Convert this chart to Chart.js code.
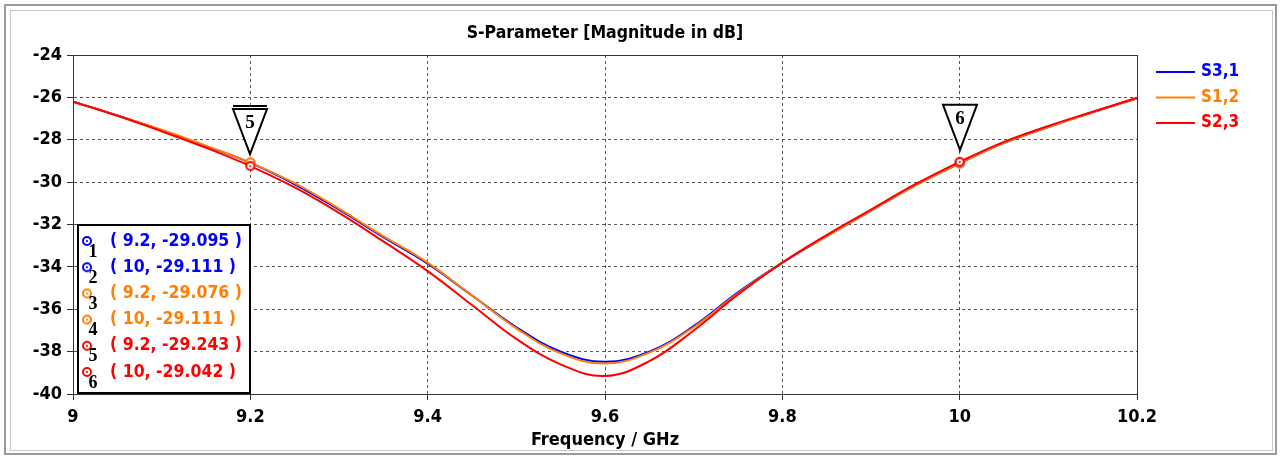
<!DOCTYPE html>
<html lang="en">
<head>
<meta charset="UTF-8">
<title>S-Parameter [Magnitude in dB]</title>
<script src="https://cdn.jsdelivr.net/npm/chart.js"></script>
<style>
  html, body { margin: 0; padding: 0; background: #fff; }
  #wrap { position: relative; width: 1284px; height: 457px; }
</style>
</head>
<body>
<div id="wrap"><canvas id="sparam"></canvas></div>
<script>
// frequency points (GHz) and magnitudes (dB)
const freqs = [9.00, 9.05, 9.10, 9.15, 9.20, 9.25, 9.30, 9.35, 9.40, 9.45, 9.50, 9.55, 9.60,
               9.65, 9.70, 9.75, 9.80, 9.85, 9.90, 9.95, 10.00, 10.05, 10.10, 10.15, 10.20];
const s31 = [-26.2, -26.85, -27.55, -28.3, -29.095, -30.1, -31.3, -32.6, -33.85, -35.35, -36.85, -38.0, -38.48,
             -38.0, -36.8, -35.2, -33.8, -32.55, -31.35, -30.15, -29.111, -28.15, -27.4, -26.7, -26.05];
const s12 = [-26.2, -26.85, -27.53, -28.28, -29.076, -30.05, -31.25, -32.55, -33.8, -35.35, -36.9, -38.08, -38.56,
             -38.05, -36.85, -35.25, -33.8, -32.55, -31.35, -30.15, -29.111, -28.15, -27.4, -26.7, -26.05];
const s23 = [-26.2, -26.87, -27.6, -28.38, -29.243, -30.25, -31.45, -32.8, -34.2, -35.8, -37.4, -38.6, -39.15,
             -38.45, -37.0, -35.3, -33.8, -32.5, -31.3, -30.1, -29.042, -28.1, -27.35, -26.68, -26.02];

const seriesNames = ['S3,1', 'S1,2', 'S2,3'];
const seriesColors = ['#0000ff', '#ff8000', '#ff0000'];
const seriesValues = [s31, s12, s23];

// markers: frequencies and the values shown in the marker box
const markerFreqs = [9.2, 10];
const markerValues = [[-29.095, -29.111], [-29.076, -29.111], [-29.243, -29.042]];
const flagSeries = 2; // markers 5 and 6 carry the flags

const xTicks = [9, 9.2, 9.4, 9.6, 9.8, 10, 10.2];
const yTicks = [-24, -26, -28, -30, -32, -34, -36, -38, -40];

const condBold = "'DejaVu Sans Condensed', 'Liberation Sans Narrow', 'DejaVu Sans', sans-serif";

function ringIcon(color) {
  const c = document.createElement('canvas');
  c.width = 12; c.height = 12;
  const g = c.getContext('2d');
  g.beginPath(); g.arc(6, 6, 4, 0, Math.PI * 2);
  g.fillStyle = '#fff'; g.fill();
  g.lineWidth = 2; g.strokeStyle = color; g.stroke();
  g.beginPath(); g.arc(6, 6, 1.1, 0, Math.PI * 2);
  g.fillStyle = color; g.fill();
  return c;
}
const icons = seriesColors.map(ringIcon);

const datasets = seriesNames.map((name, i) => ({
  label: name,
  data: freqs.map((f, k) => ({ x: f, y: seriesValues[i][k] })),
  borderColor: seriesColors[i],
  backgroundColor: seriesColors[i],
  borderWidth: 2,
  tension: 0.4,
  pointStyle: icons[i],
  pointRadius: c => markerFreqs.some(m => Math.abs(m - c.raw.x) < 1e-6) ? 5 : 0,
  pointHoverRadius: 0,
  order: 3 - i
}));

const extras = {
  id: 'extras',
  beforeDraw(chart) {
    const ctx = chart.ctx;
    ctx.save();
    ctx.strokeStyle = '#9a9a9a'; ctx.lineWidth = 2;
    ctx.strokeRect(5, 5, 1271, 449);
    ctx.strokeStyle = '#c6c6c6'; ctx.lineWidth = 1;
    ctx.strokeRect(10.5, 10.5, 1262, 440);
    ctx.restore();
  },
  afterDatasetsDraw(chart) {
    const { ctx, chartArea: a, scales: { x, y } } = chart;
    ctx.save();
    ctx.strokeStyle = '#333'; ctx.lineWidth = 1;
    ctx.strokeRect(a.left + 0.5, a.top + 0.5, a.right - a.left, a.bottom - a.top);
    // flags for markers 5 and 6
    markerFreqs.forEach((f, j) => {
      const px = Math.round(x.getPixelForValue(f));
      const py = y.getPixelForValue(markerValues[flagSeries][j]);
      const apex = py - 12, top = apex - 45;
      ctx.beginPath();
      ctx.moveTo(px - 17, top); ctx.lineTo(px + 17, top); ctx.lineTo(px, apex); ctx.closePath();
      ctx.fillStyle = '#fff'; ctx.fill();
      ctx.strokeStyle = '#000'; ctx.lineWidth = 2; ctx.stroke();
      if (j === 0) {
        ctx.beginPath(); ctx.moveTo(px - 17, top - 3); ctx.lineTo(px + 17, top - 3); ctx.stroke();
      }
      ctx.fillStyle = '#000';
      ctx.font = "bold 19px 'Liberation Serif', serif";
      ctx.textAlign = 'center'; ctx.textBaseline = 'middle';
      ctx.fillText(String(flagSeries * 2 + j + 1), px, top + 14);
    });
    ctx.restore();
  },
  afterDraw(chart) {
    const { ctx, chartArea: a } = chart;
    ctx.save();
    // title
    ctx.fillStyle = '#000';
    ctx.font = 'bold 17.5px ' + condBold;
    ctx.textAlign = 'center'; ctx.textBaseline = 'middle';
    ctx.fillText('S-Parameter [Magnitude in dB]', (a.left + a.right) / 2, 33);
    // legend
    ctx.textAlign = 'left';
    ctx.font = 'bold 17px ' + condBold;
    seriesNames.forEach((n, i) => {
      const ly = 72 + i * 25.5;
      ctx.strokeStyle = seriesColors[i]; ctx.lineWidth = 2;
      ctx.beginPath(); ctx.moveTo(1156, ly); ctx.lineTo(1195, ly); ctx.stroke();
      ctx.fillStyle = seriesColors[i];
      ctx.fillText(n, 1201, ly);
    });
    // marker box
    const bx = 78, by = 225, bw = 172, bh = 168;
    ctx.fillStyle = '#fff'; ctx.fillRect(bx, by, bw, bh);
    ctx.strokeStyle = '#000'; ctx.lineWidth = 2; ctx.strokeRect(bx, by, bw, bh);
    let n = 0;
    seriesNames.forEach((s, i) => {
      markerFreqs.forEach((f, j) => {
        const ry = 241 + n * 26.2;
        ctx.drawImage(icons[i], 81, ry - 6);
        ctx.fillStyle = '#000';
        ctx.font = "bold 18px 'Liberation Serif', serif";
        ctx.textAlign = 'center';
        ctx.fillText(String(n + 1), 93, ry + 11);
        ctx.fillStyle = seriesColors[i];
        ctx.font = 'bold 17.5px ' + condBold;
        ctx.textAlign = 'left';
        ctx.fillText('( ' + f + ', ' + markerValues[i][j].toFixed(3) + ' )', 110, ry);
        n++;
      });
    });
    ctx.restore();
  }
};

new Chart(document.getElementById('sparam'), {
  type: 'line',
  data: { datasets },
  options: {
    responsive: true,
    maintainAspectRatio: false,
    animation: false,
    events: [],
    layout: { padding: { left: 0, top: 55, right: 147, bottom: 0 } },
    plugins: { legend: { display: false }, title: { display: false }, tooltip: { enabled: false } },
    scales: {
      x: {
        type: 'linear',
        min: 9, max: 10.2,
        afterFit: s => { s.height = 63; },
        afterBuildTicks: s => { s.ticks = xTicks.map(v => ({ value: v })); },
        ticks: {
          callback: v => String(Math.round(v * 10) / 10),
          color: '#000', padding: 7, maxRotation: 0, autoSkip: false,
          font: { family: condBold, weight: 'bold', size: 18 }
        },
        grid: { color: '#555', tickColor: '#333', tickLength: 6 },
        border: { display: true, color: '#333', dash: [3, 3] },
        title: {
          display: true, text: 'Frequency / GHz', color: '#000',
          padding: { top: 0, bottom: 6 },
          font: { family: condBold, weight: 'bold', size: 18 }
        }
      },
      y: {
        min: -40, max: -24,
        afterFit: s => { s.width = 73; },
        afterBuildTicks: s => { s.ticks = yTicks.map(v => ({ value: v })); },
        ticks: {
          color: '#000', padding: 5, autoSkip: false,
          font: { family: condBold, weight: 'bold', size: 18 }
        },
        grid: { color: '#555', tickColor: '#333', tickLength: 6 },
        border: { display: true, color: '#333', dash: [3, 3] }
      }
    }
  },
  plugins: [extras]
});
</script>
</body>
</html>
